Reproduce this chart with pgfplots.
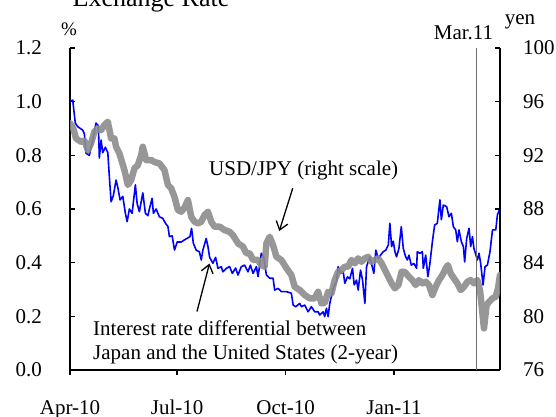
\documentclass[border=0pt]{standalone}
\usepackage{pgfplots}
\pgfplotsset{compat=1.18}
\usepackage{pgfplotstable}
\usepackage{fontspec}
\setmainfont{Liberation Serif}
\usetikzlibrary{arrows.meta}
\definecolor{rateblue}{RGB}{0,0,255}
\definecolor{yengray}{RGB}{140,140,140}
\definecolor{margray}{RGB}{110,110,110}

\pgfplotstableread{
day val
0 1.00
2.3 1.006
4.5 0.92
6.5 0.907
10.8 0.894
12.2 0.88
13.6 0.808
16.4 0.80
19.3 0.857
22.1 0.92
24.1 0.91
24.9 0.79
26.4 0.857
27.8 0.81
30.0 0.83
32.1 0.81
33.4 0.72
34.9 0.627
36.8 0.65
39.1 0.708
40.6 0.68
42.5 0.634
44.8 0.647
47.0 0.584
48.5 0.553
50.4 0.60
52.7 0.584
55.5 0.69
57.0 0.62
58.9 0.59
61.8 0.66
64.0 0.584
66.1 0.575
67.4 0.60
69.7 0.64
70.8 0.584
73.1 0.60
75.9 0.571
78.8 0.565
81.0 0.547
83.1 0.535
84.4 0.497
86.7 0.50
88.7 0.447
91.0 0.477
94.4 0.477
97.2 0.485
101.8 0.497
103.2 0.528
104.7 0.472
107.1 0.447
109.9 0.44
111.4 0.41
112.8 0.447
115.6 0.49
117.1 0.46
118.5 0.42
121.3 0.398
123.6 0.42
125.6 0.379
128.4 0.385
129.8 0.366
132.7 0.379
135.5 0.385
137.8 0.36
140.6 0.38
142.6 0.354
145.4 0.385
148.2 0.391
151.1 0.366
153.1 0.391
155.4 0.36
158.2 0.385
159.6 0.348
162.4 0.435
164.4 0.42
166.7 0.354
169.5 0.342
172.4 0.342
173.7 0.298
176.6 0.304
179.4 0.292
183.7 0.292
187.9 0.286
189.4 0.242
191.6 0.236
195.0 0.248
196.4 0.236
199.2 0.242
202.1 0.217
204.9 0.236
207.7 0.217
210.6 0.217
212.0 0.205
214.9 0.217
216.2 0.199
217.7 0.23
219.1 0.199
220.5 0.248
223.4 0.304
226.2 0.329
227.6 0.385
229.6 0.36
231.9 0.366
233.3 0.323
235.5 0.347
237.5 0.34
239.8 0.379
241.2 0.317
243.2 0.335
244.6 0.298
246.6 0.372
248.3 0.335
250.3 0.248
251.7 0.385
254.5 0.422
255.9 0.397
257.9 0.36
259.6 0.447
261.6 0.416
263.6 0.428
265.9 0.441
268.1 0.447
270.2 0.466
271.5 0.547
273.0 0.46
274.4 0.48
275.8 0.441
277.2 0.422
279.2 0.453
281.2 0.534
282.9 0.453
284.9 0.422
286.3 0.41
287.7 0.428
289.7 0.391
291.9 0.397
294.2 0.379
294.8 0.441
297.0 0.435
299.1 0.441
299.9 0.379
301.9 0.428
303.8 0.348
305.5 0.397
307.6 0.478
309.5 0.54
311.8 0.547
314.0 0.634
315.2 0.56
316.9 0.615
319.7 0.609
321.7 0.571
323.7 0.584
325.4 0.534
327.4 0.522
328.8 0.478
330.2 0.522
332.2 0.478
333.9 0.46
335.0 0.403
336.7 0.49
338.7 0.528
340.1 0.46
341.6 0.497
342.9 0.453
345.8 0.41
347.2 0.435
348.6 0.397
350.6 0.317
352.3 0.385
354.3 0.391
356.5 0.441
358.6 0.522
361.4 0.522
362.8 0.578
365 0.603
}\ratetable

\pgfplotstableread{
day yen
0 94.4
2.8 94.0
5.1 93.26
9.4 93.0
12.2 93.1
15.1 92.39
17.9 92.9
20.7 93.76
23.6 94.0
26.4 93.88
29.2 94.26
32.1 94.5
34.9 93.26
37.7 93.26
39.1 92.64
41.9 92.15
46.2 90.9
49.1 89.79
51.9 90.15
54.7 91.03
57.6 91.27
60.4 92.02
61.8 92.64
64.6 91.65
68.9 91.65
71.7 91.5
75.9 91.4
80.2 90.9
83.1 89.79
85.9 89.54
88.7 88.9
91.6 87.92
94.4 87.8
97.2 88.1
100.1 88.67
102.9 87.42
105.7 87.05
108.6 86.93
111.4 87.05
114.2 87.55
117.1 87.8
119.9 87.05
122.7 86.68
127.0 86.68
131.2 86.43
135.5 86.3
138.3 86.05
142.6 85.44
146.9 85.19
149.7 84.7
152.5 84.7
155.4 84.2
159.6 84.2
162.4 83.82
165.2 83.7
166.7 85.44
169.5 85.93
172.4 85.3
175.2 84.44
179.4 84.2
183.7 83.6
187.9 83.08
190.7 82.2
195.0 81.96
199.2 81.59
203.5 81.34
207.7 81.34
210.6 81.83
213.4 80.97
216.2 81.0
219.1 81.83
221.9 81.7
224.7 82.7
227.6 83.33
230.4 83.45
233.3 83.7
236.1 83.7
238.9 84.2
241.8 83.95
244.6 84.32
247.4 84.07
250.3 84.32
253.1 84.44
255.9 84.07
258.8 84.2
261.6 84.32
264.5 83.95
267.3 83.45
270.2 82.95
273.0 82.46
275.8 82.09
278.7 82.33
281.5 83.33
284.3 83.3
287.7 82.95
290.6 82.7
293.4 82.33
296.2 82.7
299.1 82.46
301.9 82.58
304.7 82.33
307.6 81.59
310.4 82.2
313.2 82.7
316.1 83.07
318.9 83.58
320.8 83.82
323.1 83.2
325.9 82.83
328.8 82.46
331.6 81.96
334.4 82.2
337.3 82.58
340.1 82.7
342.9 82.46
345.8 82.7
348.0 81.96
350.1 80.22
351.4 79.1
353.6 80.84
355.7 81.08
358.6 81.34
361.4 81.46
363.3 82.09
365 83.08
}\yentable

\begin{document}
\begin{tikzpicture}
\useasboundingbox (0pt,0pt) rectangle (556pt,416pt);
\pgfplotsset{
  every axis/.append style={
    at={(70pt,46pt)}, anchor=south west, scale only axis,
    width=430pt, height=322pt, xmin=0, xmax=365,
    axis line style={line width=1.6pt, black},
    tick align=inside, major tick length=5pt,
    tick style={line width=1.6pt, black},
    tick label style={font=\fontsize{21}{25}\selectfont},
    /pgf/number format/assume math mode=true,
  }
}
\begin{axis}[
  ymin=0, ymax=1.2,
  axis y line*=left, axis x line*=bottom,
  xtick={0,91,183,275},
  xticklabels={Apr-10,Jul-10,Oct-10,Jan-11},
  xtick style={yshift=-5pt},
  ytick={0,0.2,0.4,0.6,0.8,1.0,1.2},
  yticklabel style={anchor=east, inner sep=0pt, xshift=-28pt,
    /pgf/number format/.cd, fixed, fixed zerofill, precision=1},
  xticklabel style={anchor=base, inner sep=0pt, yshift=-44pt},
]
\addplot[rateblue, line width=1.6pt, line join=round] table[x=day, y=val] {\ratetable};
\end{axis}
\begin{axis}[
  ymin=76, ymax=100,
  axis x line=none, axis y line*=right,
  ytick={76,80,84,88,92,96,100},
  yticklabel style={anchor=west, inner sep=0pt, xshift=23pt},
]
\addplot[yengray, opacity=0.9, line width=6.5pt, line join=round, line cap=round] table[x=day, y=yen] {\yentable};
\draw[margray, line width=1.4pt] (axis cs:345,76) -- (axis cs:345,100);
\end{axis}
\node[anchor=base, inner sep=0pt, font=\fontsize{26}{30}\selectfont] at (151pt,409pt) {Exchange Rate};
\node[anchor=base, inner sep=0pt, font=\fontsize{19}{23}\selectfont] at (69pt,380pt) {\%};
\node[anchor=base, inner sep=0pt, font=\fontsize{21}{25}\selectfont] at (520pt,391pt) {yen};
\node[anchor=base, inner sep=0pt, font=\fontsize{21}{25}\selectfont] at (463.5pt,376pt) {Mar.11};
\node[anchor=base west, inner sep=0pt, font=\fontsize{21}{25}\selectfont] at (209pt,241pt) {USD/JPY (right scale)};
\draw[line width=1.3pt, -{Straight Barb[length=8pt,width=12pt]}] (292.7pt,227.7pt) -- (279.3pt,185pt);
\node[anchor=base west, inner sep=0pt, font=\fontsize{21}{25}\selectfont] at (93pt,81pt) {Interest rate differential between};
\node[anchor=base west, inner sep=0pt, font=\fontsize{21}{25}\selectfont] at (93pt,57pt) {Japan and the United States (2-year)};
\draw[line width=1.3pt, -{Straight Barb[length=8pt,width=12pt]}] (197pt,104.5pt) -- (209.5pt,152.5pt);
\end{tikzpicture}
\end{document}
